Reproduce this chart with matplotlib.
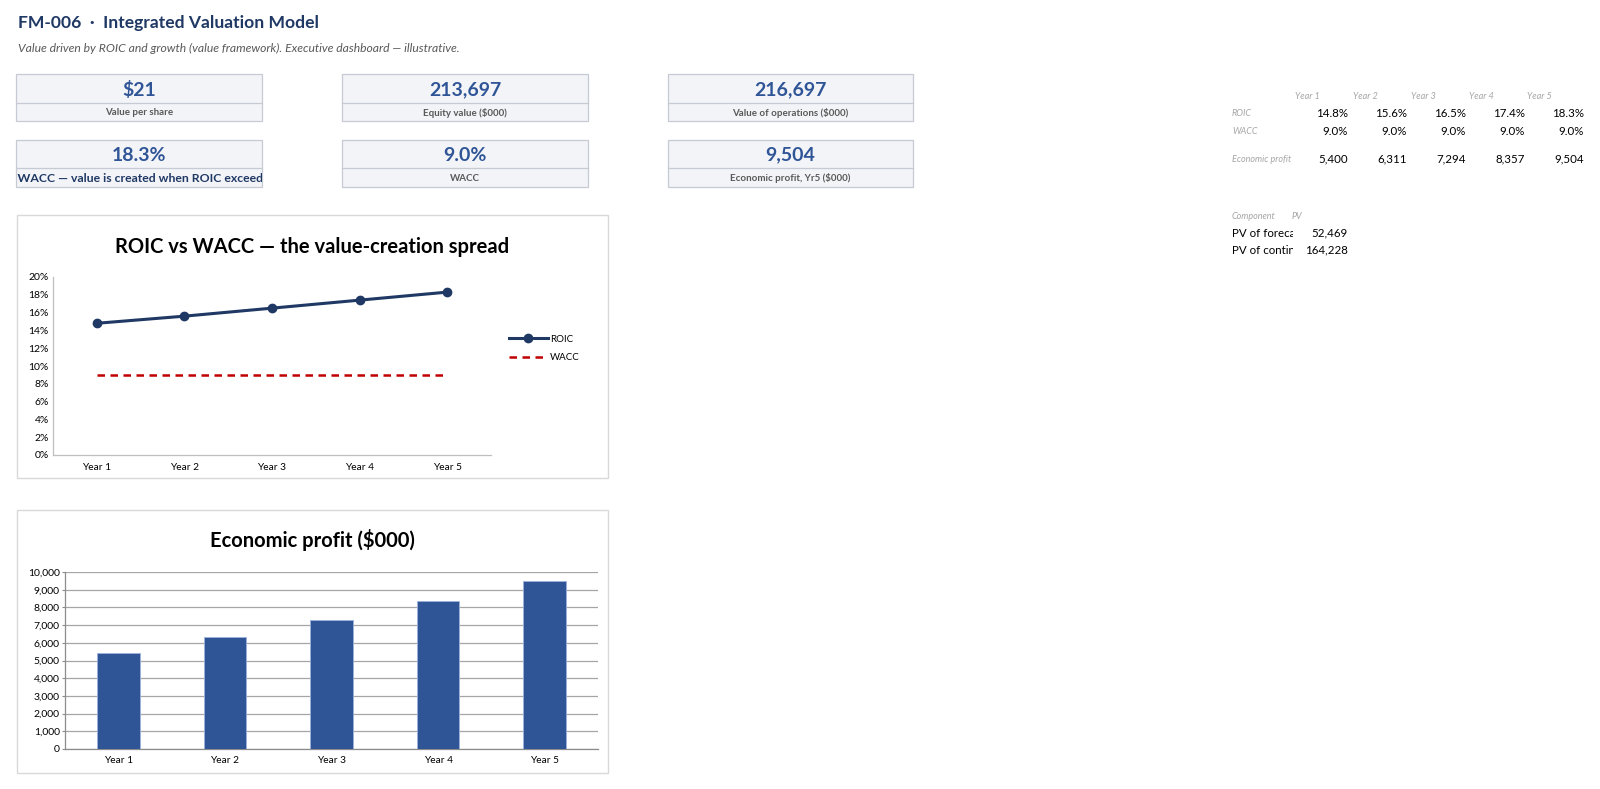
import matplotlib
matplotlib.use("Agg")
import matplotlib.pyplot as plt
from matplotlib.patches import Rectangle
from matplotlib.ticker import FuncFormatter
import numpy as np

plt.rcParams['font.family'] = ['Lato', 'DejaVu Sans']

# ---------------- data ----------------
years = ["Year 1", "Year 2", "Year 3", "Year 4", "Year 5"]
roic = [0.148, 0.156, 0.165, 0.174, 0.183]
wacc = [0.090, 0.090, 0.090, 0.090, 0.090]
econ_profit = [5400, 6311, 7294, 8357, 9504]

kpi_values = ["$21", "213,697", "216,697", "18.3%", "9.0%", "9,504"]
kpi_labels = ["Value per share", "Equity value ($000)", "Value of operations ($000)",
              "ROIC vs WACC \u2014 value is created when ROIC exceeds WACC", "WACC",
              "Economic profit, Yr5 ($000)"]

pv_components = ["PV of forecast period", "PV of continuing value"]
pv_values = [52469, 164228]

title = "FM-006  \u00b7  Integrated Valuation Model"
subtitle = "Value driven by ROIC and growth (value framework). Executive dashboard \u2014 illustrative."

W, H = 1600, 789
NAVY = "#1F3864"
BLUE = "#2F5597"
GRAY = "#595959"
LGRAY = "#A6A6A6"

fig = plt.figure(figsize=(W / 100, H / 100), dpi=100)
bg = fig.add_axes([0, 0, 1, 1])
bg.set_xlim(0, W)
bg.set_ylim(H, 0)
bg.axis("off")
renderer = fig.canvas.get_renderer()


def frect(x0, y0, x1, y1):
    return [x0 / W, 1 - y1 / H, (x1 - x0) / W, (y1 - y0) / H]


def clip_rect(x0, y0, x1, y1):
    r = Rectangle((x0, y0), x1 - x0, y1 - y0, transform=bg.transData,
                  facecolor="none", edgecolor="none")
    bg.add_patch(r)
    return r


def text_width(s, **kw):
    t = bg.text(0, 0, s, **kw)
    w = t.get_window_extent(renderer).width
    t.remove()
    return w


# ---------------- header ----------------
bg.text(18, 23, title, fontsize=12.6, fontweight="bold", color=NAVY, va="center", ha="left")
bg.text(18, 48, subtitle, fontsize=8.7, style="italic", color=GRAY, va="center", ha="left")

# ---------------- KPI cards ----------------
card_x = [(16, 262), (342, 588), (668, 913)]
card_y = [(74, 103, 121), (140, 168, 187)]
for i in range(6):
    r, c = divmod(i, 3)
    x0, x1 = card_x[c]
    y0, ym, y1 = card_y[r]
    bg.add_patch(Rectangle((x0, y0), x1 - x0, y1 - y0, facecolor="#F3F4F8",
                           edgecolor="#C5CAD3", lw=0.9))
    bg.plot([x0, x1], [ym, ym], color="#C5CAD3", lw=0.9)
    bg.text((x0 + x1) / 2, (y0 + ym) / 2 + 1, kpi_values[i], fontsize=14,
            fontweight="bold", color=BLUE, ha="center", va="center")
    if i == 3:
        clip = clip_rect(x0 + 0.5, ym, x1 - 0.5, y1)
        kw = dict(fontsize=8.8, fontweight="bold", color=NAVY)
        full = kpi_labels[i]
        hidden = text_width("ROIC vs WACC", **kw) - text_width("WACC", **kw)
        t = bg.text(x0 + 1 - hidden, (ym + y1) / 2 + 0.5, full, ha="left", va="center",
                    clip_on=True, **kw)
        t.set_clip_path(clip)
    else:
        bg.text((x0 + x1) / 2, (ym + y1) / 2 + 0.5, kpi_labels[i], fontsize=7,
                fontweight="bold", color=GRAY, ha="center", va="center")

# ---------------- right-hand table ----------------
col_hdr_x = [1307, 1365, 1423, 1481, 1539]
col_val_x = [1348, 1407, 1466, 1525, 1584]
for xh, yr in zip(col_hdr_x, years):
    bg.text(xh, 96, yr, fontsize=6.6, style="italic", color=LGRAY, ha="center", va="center")

row_specs = [("ROIC", 113, [f"{v:.1%}" for v in roic]),
             ("WACC", 131, [f"{v:.1%}" for v in wacc]),
             ("Economic profit", 159, [f"{v:,.0f}" for v in econ_profit])]
for lab, yy, vals in row_specs:
    clip = clip_rect(1225, yy - 10, 1293, yy + 10)
    t = bg.text(1232, yy, lab, fontsize=6.5, style="italic", color=LGRAY,
                ha="left", va="center", clip_on=True)
    t.set_clip_path(clip)
    for xv, s in zip(col_val_x, vals):
        bg.text(xv, yy, s, fontsize=8.3, color="#000000", ha="right", va="center")

bg.text(1232, 216, "Component", fontsize=6.5, style="italic", color=LGRAY, ha="left", va="center")
bg.text(1292, 216, "PV", fontsize=6.5, style="italic", color=LGRAY, ha="left", va="center")
for lab, v, yy in zip(pv_components, pv_values, [233, 250]):
    clip = clip_rect(1225, yy - 10, 1293, yy + 10)
    t = bg.text(1232, yy, lab, fontsize=8.3, color="#000000", ha="left", va="center",
                clip_on=True)
    t.set_clip_path(clip)
    bg.text(col_val_x[0], yy, f"{v:,.0f}", fontsize=8.3, color="#000000", ha="right", va="center")

# ---------------- chart boxes ----------------
for (x0, y0, x1, y1) in [(17, 215, 608, 478), (17, 510, 608, 773)]:
    bg.add_patch(Rectangle((x0, y0), x1 - x0, y1 - y0, facecolor="white",
                           edgecolor="#D9D9D9", lw=1.0))

# ---------------- ROIC vs WACC chart ----------------
bg.text(312, 247, "ROIC vs WACC \u2014 the value-creation spread", fontsize=14.5,
        fontweight="bold", color="black", ha="center", va="center")
ax1 = fig.add_axes(frect(53, 277, 491, 455))
x = np.arange(len(years))
ax1.plot(x, roic, color=NAVY, lw=2.2, marker="o", ms=6, label="ROIC", zorder=3)
ax1.plot(x, wacc, color="#C00000", lw=1.8, ls=(0, (3, 2.2)), label="WACC", zorder=2)
ax1.set_xlim(-0.5, len(years) - 0.5)
ax1.set_ylim(0, 0.20)
ax1.set_yticks(np.arange(0, 0.2001, 0.02))
ax1.yaxis.set_major_formatter(FuncFormatter(lambda v, p: f"{v:.0%}"))
ax1.set_xticks(x)
ax1.set_xticklabels(years)
for s in ["top", "right"]:
    ax1.spines[s].set_visible(False)
for s in ["left", "bottom"]:
    ax1.spines[s].set_color("#BFBFBF")
    ax1.spines[s].set_linewidth(0.9)
ax1.tick_params(axis="y", labelsize=7.5, length=0, pad=3, colors="#000000")
ax1.tick_params(axis="x", labelsize=7.3, length=0, pad=6)
ax1.set_facecolor("none")
ax1.legend(loc="center left", bbox_to_anchor=(509 / W, 1 - 348.5 / H),
           bbox_transform=fig.transFigure, frameon=False, fontsize=7,
           handlelength=4.0, handletextpad=0.2, labelspacing=0.95,
           borderpad=0, borderaxespad=0)

# ---------------- Economic profit chart ----------------
bg.text(312, 540, "Economic profit ($000)", fontsize=14.5, fontweight="bold",
        color="black", ha="center", va="center")
ax2 = fig.add_axes(frect(65, 572, 598, 749))
ax2.bar(x, econ_profit, width=0.4, color=BLUE, edgecolor="#9DB3DD", lw=0.6, zorder=3)
ax2.set_xlim(-0.5, len(years) - 0.5)
ax2.set_ylim(0, 10000)
ax2.set_yticks(np.arange(0, 10001, 1000))
ax2.yaxis.set_major_formatter(FuncFormatter(lambda v, p: f"{v:,.0f}"))
ax2.set_xticks(x)
ax2.set_xticklabels(years)
ax2.grid(axis="y", color="#A6A6A6", lw=0.9, zorder=0)
ax2.set_axisbelow(True)
for s in ["top", "right"]:
    ax2.spines[s].set_visible(False)
for s in ["left", "bottom"]:
    ax2.spines[s].set_color("#8C8C8C")
    ax2.spines[s].set_linewidth(0.9)
ax2.tick_params(axis="y", labelsize=7.5, length=2.2, color="#8C8C8C", pad=1.5)
ax2.tick_params(axis="x", labelsize=7.3, length=0, pad=5)
ax2.set_facecolor("none")

fig.savefig("out.png", dpi=100, facecolor="white")
